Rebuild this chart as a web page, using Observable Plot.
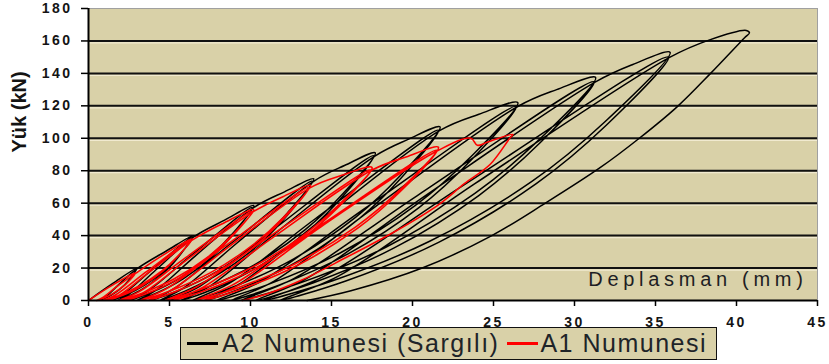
<!DOCTYPE html>
<html>
<head>
<meta charset="utf-8">
<script src="https://cdn.jsdelivr.net/npm/d3@7"></script>
<script src="https://cdn.jsdelivr.net/npm/@observablehq/plot@0.6"></script>
<style>
  body { margin: 0; background: #ffffff; font-family: "Liberation Sans", Arial, sans-serif; }
  #wrap { position: relative; width: 829px; height: 364px; overflow: hidden; }
  #legend { position: absolute; left: 180px; top: 327px; width: 537px; height: 33px; box-sizing: border-box;
            border: 1.5px solid #111; background: #d9d1a8; display: flex; align-items: center;
            font-size: 25px; letter-spacing: 1.5px; color: #1e2428; white-space: nowrap; padding-left: 6px; }
  .sw { display: inline-block; width: 31px; height: 3px; margin-right: 4px; }
  .gap { display: inline-block; width: 8px; }
  .ticklbl text { letter-spacing: 2.5px; }
  .xlab text { letter-spacing: 4.7px; }
</style>
</head>
<body>
<div id="wrap"></div>
<script>
// ---- data ----
const xTicks = [0, 5, 10, 15, 20, 25, 30, 35, 40, 45];
const yTicks = [0, 20, 40, 60, 80, 100, 120, 140, 160, 180];
const xLabel = "Deplasman (mm)";
const yLabel = "Yük (kN)";
const seriesNames = ["A2 Numunesi (Sargılı)", "A1 Numunesi"];
const seriesColors = ["#000000", "#ff0000"];

// A2 Numunesi (Sargılı) - displacement (mm), read along the loading path
const a2X = [
  0, 1.5, 3.0,
  2.63, 2.22, 1.64, 1.09, 0.7,
  1.05, 1.85, 3.0, 4.8, 6.5,
  5.68, 4.77, 3.49, 2.27, 1.4,
  2.15, 3.9, 6.4,
  5.66, 4.84, 3.69, 2.58, 1.8,
  2.51, 4.15, 6.5, 8.4, 10.2,
  8.97, 7.58, 5.66, 3.81, 2.5,
  3.64, 6.3, 10.1,
  8.96, 7.69, 5.91, 4.21, 3.0,
  4.08, 6.6, 10.2, 12.1, 13.9,
  12.28, 10.47, 7.94, 5.52, 3.8,
  5.3, 8.8, 13.8,
  12.3, 10.6, 8.25, 6.0, 4.4,
  5.83, 9.15, 13.9, 15.8, 17.7,
  15.67, 13.38, 10.21, 7.16, 5.0,
  6.89, 11.3, 17.6,
  15.7, 13.55, 10.58, 7.72, 5.7,
  7.5, 11.7, 17.7, 19.7, 21.7,
  19.25, 16.5, 12.67, 9.0, 6.4,
  8.68, 14.0, 21.6,
  19.3, 16.7, 13.1, 9.65, 7.2,
  9.38, 14.45, 21.7, 24.1, 26.5,
  23.52, 20.18, 15.53, 11.06, 7.9,
  10.68, 17.15, 26.4,
  23.58, 20.42, 16.02, 11.79, 8.8,
  11.46, 17.65, 26.5, 28.9, 31.3,
  27.8, 23.85, 18.38, 13.12, 9.4,
  12.67, 20.3, 31.2,
  27.86, 24.09, 18.87, 13.85, 10.3,
  13.45, 20.8, 31.3, 33.6, 35.9,
  31.88, 27.37, 21.09, 15.07, 10.8,
  14.55, 23.3, 35.8,
  31.96, 27.64, 21.64, 15.88, 11.8,
  15.42, 23.85, 35.9, 38.3, 40.6, 40.8,
  40.5, 38.4, 36.4, 34.0, 31.6, 28.2, 24.9, 20.6, 16.2, 13.5
];
// A2 Numunesi (Sargılı) - load (kN)
const a2Y = [
  0, 10.5, 20,
  14.4, 9.6, 4.8, 1.6, 0,
  2, 9.6, 19.6, 30.5, 40,
  28.8, 19.2, 9.6, 3.2, 0,
  3.9, 18.8, 39.2,
  28.2, 18.8, 9.4, 3.1, 0,
  3.9, 18.8, 39.2, 49.5, 58.5,
  42.1, 28.1, 14.0, 4.7, 0,
  5.7, 27.5, 57.3,
  41.3, 27.5, 13.8, 4.6, 0,
  5.7, 27.5, 57.3, 67, 75,
  54, 36, 18, 6, 0,
  7.4, 35.3, 73.5,
  52.9, 35.3, 17.6, 5.9, 0,
  7.4, 35.3, 73.5, 83.2, 91,
  65.5, 43.7, 21.8, 7.3, 0,
  8.9, 42.8, 89.2,
  64.2, 42.8, 21.4, 7.1, 0,
  8.9, 42.8, 89.2, 99.2, 107,
  77, 51.4, 25.7, 8.6, 0,
  10.5, 50.4, 104.9,
  75.5, 50.4, 25.2, 8.4, 0,
  10.5, 50.4, 104.9, 114.8, 122,
  87.8, 58.6, 29.3, 9.8, 0,
  12, 57.4, 119.6,
  86.1, 57.4, 28.7, 9.6, 0,
  12, 57.4, 119.6, 130, 137.5,
  99, 66, 33, 11, 0,
  13.5, 64.7, 134.8,
  97.1, 64.7, 32.4, 10.8, 0,
  13.5, 64.7, 134.8, 145.5, 153,
  110.2, 73.4, 36.7, 12.2, 0,
  15, 72, 150,
  108, 72, 36, 12, 0,
  15, 72, 150, 160.5, 166.5, 165,
  162, 140, 120, 100, 82, 60, 40, 20, 6, 0
];

// A1 Numunesi - displacement (mm)
const a1X = [
  0, 1.4, 2.9,
  2.52, 2.08, 1.48, 0.91, 0.5,
  0.86, 1.7, 2.9, 4.6, 6.4,
  5.52, 4.53, 3.16, 1.84, 0.9,
  1.71, 3.6, 6.3,
  5.48, 4.57, 3.29, 2.07, 1.2,
  1.98, 3.8, 6.4, 8.3, 10.2,
  8.87, 7.38, 5.3, 3.31, 1.9,
  3.13, 6.0, 10.1,
  8.85, 7.45, 5.5, 3.63, 2.3,
  3.49, 6.25, 10.2, 12.0, 13.7,
  12.02, 10.13, 7.51, 4.99, 3.2,
  4.76, 8.4, 13.6,
  12.02, 10.23, 7.76, 5.38, 3.7,
  5.2, 8.7, 13.7, 15.6, 17.5,
  15.45, 13.15, 9.95, 6.88, 4.7,
  6.6, 11.05, 17.4,
  15.45, 13.25, 10.2, 7.27, 5.2,
  7.05, 11.35, 17.5, 19.6, 21.6,
  19.2, 16.5, 12.75, 9.15, 6.6,
  8.84, 14.05, 21.5,
  19.2, 16.6, 13.0, 9.55, 7.1,
  9.28, 14.35, 21.6, 23.6, 24.0, 24.6, 26.2,
  26.0, 24.8, 23.2, 21.6, 19.0, 15.9, 13.1, 11.0, 9.5
];
// A1 Numunesi - load (kN)
const a1Y = [
  0, 9, 17,
  12.2, 8.2, 4.1, 1.4, 0,
  1.7, 8.2, 16.7, 28, 38,
  27.4, 18.2, 9.1, 3.0, 0,
  3.7, 17.9, 37.2,
  26.8, 17.9, 8.9, 3.0, 0,
  3.7, 17.9, 37.2, 47.5, 56,
  40.3, 26.9, 13.4, 4.5, 0,
  5.5, 26.4, 54.9,
  39.5, 26.4, 13.2, 4.4, 0,
  5.5, 26.4, 54.9, 64, 71,
  51.1, 34.1, 17.0, 5.7, 0,
  7.0, 33.4, 69.6,
  50.1, 33.4, 16.7, 5.6, 0,
  7.0, 33.4, 69.6, 77, 82,
  59, 39.4, 19.7, 6.6, 0,
  8.0, 38.6, 80.4,
  57.9, 38.6, 19.3, 6.4, 0,
  8.0, 38.6, 80.4, 88.5, 94.5,
  68, 45.4, 22.7, 7.6, 0,
  9.3, 44.4, 92.6,
  66.7, 44.4, 22.2, 7.4, 0,
  9.5, 45.4, 92.6, 100, 95.7, 97.5, 102.4,
  100, 84, 72, 59, 43, 26.5, 12.3, 4, 0
];

// ---- build ----
const a2 = a2X.map((x, i) => ({x, y: a2Y[i]}));
const a1 = a1X.map((x, i) => ({x, y: a1Y[i]}));
const grid = yTicks.filter(d => d > 0 && d < 180);

const chart = Plot.plot({
  width: 829,
  height: 330,
  marginLeft: 88,
  marginRight: 12,
  marginTop: 8,
  marginBottom: 30,
  style: {background: "transparent", fontFamily: "'Liberation Sans', Arial, sans-serif", overflow: "visible"},
  x: {domain: [0, 45]},
  y: {domain: [0, 180]},
  marks: [
    Plot.frame({fill: "#d9d1a8", stroke: "none"}),
    Plot.ruleY(grid, {stroke: "#f1ead0", strokeWidth: 1.2, dy: 2}),
    Plot.ruleY(grid, {stroke: "#111", strokeWidth: 2}),
    Plot.ruleY([180], {stroke: "#a0a0a0", strokeWidth: 1}),
    Plot.ruleX([45], {stroke: "#a0a0a0", strokeWidth: 1}),
    Plot.line(a2, {x: "x", y: "y", stroke: seriesColors[0], strokeWidth: 1.5, curve: "catmull-rom"}),
    Plot.line(a1, {x: "x", y: "y", stroke: seriesColors[1], strokeWidth: 1.6, curve: "catmull-rom"}),
    Plot.ruleX([0], {stroke: "#000", strokeWidth: 2}),
    Plot.ruleY([0], {stroke: "#000", strokeWidth: 2}),
    Plot.axisX({ticks: xTicks, tickSize: 6, tickPadding: 11, fontSize: 14, fontWeight: "bold", fill: "#141414", stroke: "#000", strokeWidth: 1.5, label: null, className: "ticklbl"}),
    Plot.axisY({ticks: yTicks, tickSize: 7, tickPadding: 9, fontSize: 14, fontWeight: "bold", fill: "#141414", stroke: "#000", strokeWidth: 1.5, label: null, className: "ticklbl"}),
    Plot.text([yLabel], {text: d => d, frameAnchor: "left", rotate: -90, dx: -69, dy: -2, fontSize: 20, fontWeight: "bold", fill: "#141414"}),
    Plot.text([xLabel], {text: d => d, frameAnchor: "bottom-right", textAnchor: "end", dx: -10, dy: -14.5, fontSize: 20, fill: "#1e1e24", className: "xlab"})
  ]
});

const wrap = document.getElementById("wrap");
wrap.appendChild(chart);

const legend = document.createElement("div");
legend.id = "legend";
seriesNames.forEach((name, i) => {
  if (i > 0) { const g = document.createElement("span"); g.className = "gap"; legend.appendChild(g); }
  const sw = document.createElement("span");
  sw.className = "sw";
  sw.style.background = seriesColors[i];
  if (i > 0) sw.style.marginRight = "2px";
  legend.appendChild(sw);
  const t = document.createElement("span");
  t.textContent = name;
  legend.appendChild(t);
});
wrap.appendChild(legend);
</script>
</body>
</html>
